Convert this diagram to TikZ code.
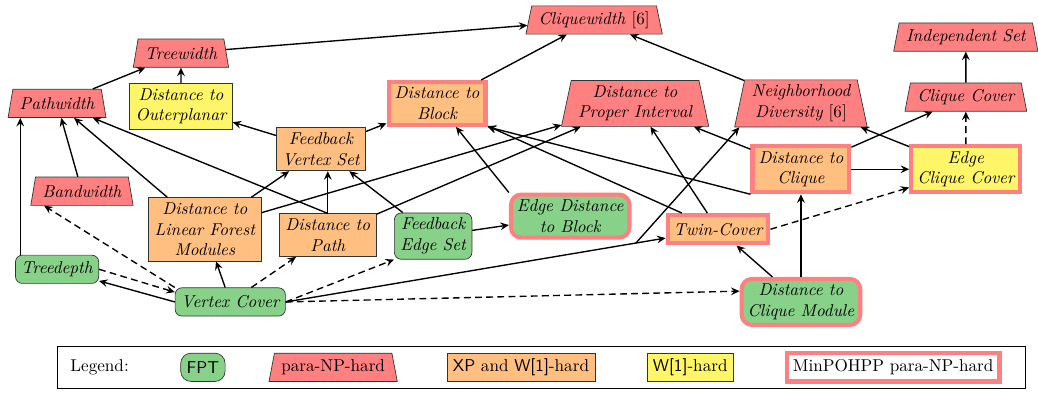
\documentclass[tikz,border=0pt]{standalone}
\usetikzlibrary{shapes.geometric,arrows.meta,calc}
\definecolor{fptgreen}{RGB}{136,209,136}
\definecolor{nphred}{RGB}{255,128,128}
\definecolor{xporange}{RGB}{255,191,128}
\definecolor{woneyellow}{RGB}{255,245,104}
\tikzset{
  >={Stealth[length=5pt,width=4.5pt,inset=1.8pt]},
  param/.style={draw=black!80,font=\itshape,align=center,inner xsep=3.5pt,inner ysep=3pt,minimum height=16.5pt},
  fpt/.style={param,fill=fptgreen,rounded corners=4pt},
  paranp/.style={param,fill=nphred,trapezium,trapezium stretches=true,trapezium left angle=78,trapezium right angle=78,inner xsep=4pt},
  xphard/.style={param,fill=xporange},
  wonehard/.style={param,fill=woneyellow},
  minphard/.style={draw=nphred,line width=2.4pt},
  dep/.style={->,thick},
  dashdep/.style={->,thick,dash pattern=on 4pt off 2.5pt},
}
\begin{document}
\begin{tikzpicture}
      \useasboundingbox (0,0) rectangle (21.28,8.04);

      \node[paranp] (CW) at (12.18,7.63) {Cliquewidth {\upshape[6]}};
      \node[paranp] (TW) at (3.71,6.95) {Treewidth};
      \node[paranp] (IS) at (19.80,7.28) {Independent Set};
      \node[paranp] (PW) at (1.17,5.92) {Pathwidth};
      \node[wonehard] (DOP) at (3.71,5.86) {Distance to\\Outerplanar};
      \node[xphard,minphard] (DB) at (8.96,5.92) {Distance to\\Block};
      \node[paranp] (DPI) at (13.02,5.92) {Distance to\\Proper Interval};
      \node[paranp] (ND) at (16.42,5.92) {Neighborhood\\Diversity {\upshape[6]}};
      \node[paranp] (CC) at (19.80,6.05) {Clique Cover};
      \node[xphard] (FVS) at (6.58,4.98) {Feedback\\Vertex Set};
      \node[xphard,minphard] (DC) at (16.42,4.57) {Distance to\\Clique};
      \node[wonehard,minphard] (ECC) at (19.80,4.57) {Edge\\Clique Cover};
      \node[paranp] (BW) at (1.68,4.12) {Bandwidth};
      \node[xphard] (DLFM) at (4.20,3.34) {Distance to\\Linear Forest\\Modules};
      \node[xphard] (DP) at (6.72,3.22) {Distance to\\Path};
      \node[fpt] (FES) at (8.88,3.20) {Feedback\\Edge Set};
      \node[fpt,minphard,rounded corners=6pt] (EDB) at (11.69,3.61) {Edge Distance\\to Block};
      \node[xphard,minphard] (TC) at (14.72,3.34) {Twin-Cover};
      \node[fpt] (TD) at (1.17,2.52) {Treedepth};
      \node[fpt] (VC) at (4.72,1.85) {Vertex Cover};
      \node[fpt,minphard,rounded corners=6pt] (DCM) at (16.42,1.85) {Distance to\\Clique Module};

      % upper part
      \draw[dep] (TW) -- (CW);
      \draw[dep] (DB) -- (CW);
      \draw[dep] (ND) -- (CW);
      \draw[dep] (PW) -- (TW);
      \draw[dep] (DOP) -- (TW);
      \draw[dep] (CC) -- (IS);
      \draw[dashdep] (ECC) -- (CC);
      \draw[dep] (DC) -- (CC);
      \draw[dep] (DC) -- (ECC);
      \draw[dep] (DC) -- (DPI);
      \draw[dep] (DC.south west) -- (DB.south east);
      \draw[dep] (ECC) -- (ND);
      \draw[dep] (FVS) -- (DOP);
      \draw[dep] (FVS) -- (DB);

      % into pathwidth
      \draw[dep] ([xshift=3pt]TD.north west) -- ([xshift=3pt]TD.north west |- PW.south);
      \draw[dep] (BW) -- (PW);
      \draw[dep] (DLFM) -- (PW);
      \draw[dep] (DP.north) -- (PW);

      % middle part
      \draw[dep] (DLFM) -- (FVS);
      \draw[dep] (DP.north) -- (DP.north |- FVS.south);
      \draw[dep] (FES) -- (FVS);
      \draw[dep] (DLFM) -- (DPI);
      \draw[dep] (DP) -- (DPI);
      \draw[dep] (FES) -- (EDB);
      \draw[dep] (EDB.north west) -- (DB);
      \draw[dep] (TC) -- (DB);
      \draw[dep] (TC) -- (DPI);
      \draw[dashdep] (TC.east) -- ([yshift=4pt]ECC.south west);
      \draw[dep] (DCM) -- (TC);
      \draw[dep] (DCM) -- (DC);

      % from vertex cover
      \draw[dep] (VC) -- (DLFM);
      \draw[dashdep] (VC) -- (DP);
      \draw[dashdep] (VC.east) -- (FES.south west);
      \draw[dep] (VC.west) -- (TD);
      \draw[dashdep] (TD.east) -- (VC.170);
      \draw[dashdep] (VC.north west) -- ([xshift=8pt]BW.bottom left corner);
      \draw[dep] (VC.east) -- (TC);
      \coordinate (B) at ($(VC.east)!0.81!(TC)$);
      \draw[dep] (B) -- ([xshift=3pt]ND.bottom left corner);
      \draw[dashdep] (VC.east) -- (DCM.170);

      % legend
      \node[draw=black,minimum width=19.84cm,minimum height=0.86cm,inner sep=0pt] (L) at (11.09,0.51) {};
      \node[anchor=west] (LL) at (1.32,0.51) {Legend:};
      \node[fpt,font=\sffamily,rounded corners=6pt] (LF) at (4.16,0.51) {FPT};
      \node[paranp,font=\normalfont] (LP) at (6.83,0.51) {para-NP-hard};
      \node[xphard,font=\normalfont] (LX) at (10.68,0.51) {\textsf{XP} and \textsf{W[1]}-hard};
      \node[wonehard,font=\normalfont] (LW) at (14.15,0.51) {\textsf{W[1]}-hard};
      \node[param,minphard,fill=white,font=\normalfont] (LM) at (18.31,0.51) {MinPOHPP para-NP-hard};
\end{tikzpicture}
\end{document}
